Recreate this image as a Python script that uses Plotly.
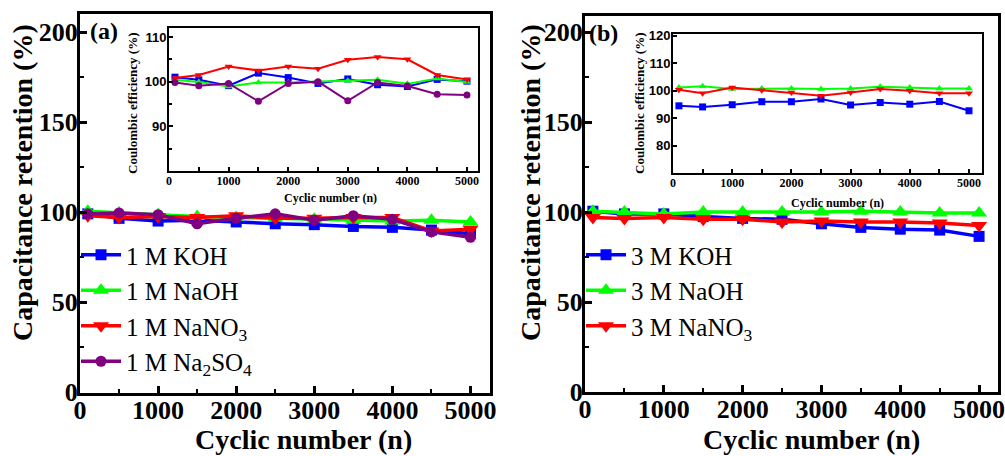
import plotly.graph_objects as go

# ---------------- data ----------------
cycles = [100, 500, 1000, 1500, 2000, 2500, 3000, 3500, 4000, 4500, 5000]

# panel (a) capacitance retention (%)
ret_koh_1 = [99, 96.5, 95, 95.5, 94.5, 93.5, 93, 92, 91.5, 90, 88]
ret_naoh_1 = [100.5, 99.5, 98.5, 97.5, 97, 96.5, 96, 95.5, 95, 95.5, 94.5]
ret_nano3_1 = [98, 97, 97.5, 97, 98, 96.5, 96.5, 97, 97, 89.5, 90.5]
ret_na2so4_1 = [99, 99.5, 98.5, 93.5, 96.5, 99, 95.5, 98, 96, 89, 86]

# panel (a) inset coulombic efficiency (%)
ce_koh_1 = [101, 100.4, 99.1, 101.9, 100.9, 99.6, 100.6, 99.3, 98.9, 100.5, 100.1]
ce_naoh_1 = [100.4, 99.9, 98.9, 99.8, 99.8, 100, 100.2, 100.4, 99.5, 100.7, 99.9]
ce_nano3_1 = [100.8, 101.5, 103.4, 102.5, 103.4, 102.9, 104.9, 105.5, 105, 101.5, 100.5]
ce_na2so4_1 = [99.8, 99.1, 99.6, 95.6, 99.6, 100, 95.7, 99.8, 99, 97.2, 97]

# panel (b) capacitance retention (%)
ret_koh_3 = [100.5, 99, 99, 97.5, 96.5, 96, 93.5, 91.5, 90.5, 90, 86.5]
ret_naoh_3 = [100.5, 100, 99, 100, 100, 100, 100, 100.5, 100, 99.5, 99.5]
ret_nano3_3 = [97, 96.5, 97, 96, 96, 94.5, 95, 94.5, 94.5, 94, 92.5]

# panel (b) inset coulombic efficiency (%)
ce_koh_3 = [94.5, 94.1, 94.9, 96, 96, 97, 94.8, 95.7, 95.1, 96.1, 92.7]
ce_naoh_3 = [101.2, 101.6, 100.6, 100.8, 100.8, 100.6, 100.8, 101.5, 101.2, 100.8, 100.8]
ce_nano3_3 = [100.4, 99.1, 101.2, 100.2, 99.4, 98.2, 99.4, 100.6, 100, 99.1, 99.1]

names_1 = ["1 M KOH", "1 M NaOH", "1 M NaNO<sub>3</sub>", "1 M Na<sub>2</sub>SO<sub>4</sub>"]
names_3 = ["3 M KOH", "3 M NaOH", "3 M NaNO<sub>3</sub>"]

colors = ["#0000FF", "#00FF00", "#FF0000", "#800080"]
symbols = ["square", "triangle-up", "triangle-down", "circle"]
msizes = [11, 14, 14, 11]

W, H = 1005, 456
def fx(p):
    return p / W
def fy(p):
    return 1 - p / H

SERIF = "Liberation Serif"
SANS = "Liberation Sans"

fig = go.Figure()

main_a = [ret_koh_1, ret_naoh_1, ret_nano3_1, ret_na2so4_1]
ins_a = [ce_koh_1, ce_naoh_1, ce_nano3_1, ce_na2so4_1]
main_b = [ret_koh_3, ret_naoh_3, ret_nano3_3]
ins_b = [ce_koh_3, ce_naoh_3, ce_nano3_3]

for i, (ys, nm) in enumerate(zip(main_a, names_1)):
    fig.add_trace(go.Scatter(x=cycles, y=ys, name=nm, mode="lines+markers",
                             line=dict(color=colors[i], width=3.5),
                             marker=dict(symbol=symbols[i], size=msizes[i], color=colors[i]),
                             xaxis="x", yaxis="y", legend="legend", legendgroup="a%d" % i))
for i, ys in enumerate(ins_a):
    fig.add_trace(go.Scatter(x=cycles, y=ys, mode="lines+markers", showlegend=False,
                             line=dict(color=colors[i], width=2),
                             marker=dict(symbol=symbols[i], size=7, color=colors[i]),
                             xaxis="x3", yaxis="y3"))
for i, (ys, nm) in enumerate(zip(main_b, names_3)):
    fig.add_trace(go.Scatter(x=cycles, y=ys, name=nm, mode="lines+markers",
                             line=dict(color=colors[i], width=3.5),
                             marker=dict(symbol=symbols[i], size=msizes[i], color=colors[i]),
                             xaxis="x2", yaxis="y2", legend="legend2", legendgroup="b%d" % i))
for i, ys in enumerate(ins_b):
    fig.add_trace(go.Scatter(x=cycles, y=ys, mode="lines+markers", showlegend=False,
                             line=dict(color=colors[i], width=2),
                             marker=dict(symbol=symbols[i], size=7, color=colors[i]),
                             xaxis="x4", yaxis="y4"))

tickf_main = dict(family=SERIF, size=26, color="black", weight="bold")
common_main = dict(showline=True, linecolor="black", linewidth=3, mirror=True,
                   ticks="inside", ticklen=7, tickwidth=2.5, tickcolor="black",
                   showgrid=False, zeroline=False, tickfont=tickf_main, automargin=False,
                   ticklabelstandoff=-6, ticklabeloverflow="allow")
xmain = dict(common_main, range=[0, 5250], tickvals=[0, 1000, 2000, 3000, 4000, 5000],
             ticklabelstandoff=-8,
             minor=dict(tickvals=[500, 1500, 2500, 3500, 4500], ticks="inside", ticklen=4,
                        tickwidth=2, tickcolor="black"))
ymain = dict(common_main, tickvals=[0, 50, 100, 150, 200],
             minor=dict(tickvals=[25, 75, 125, 175], ticks="inside", ticklen=4,
                        tickwidth=2, tickcolor="black"))

common_ins = dict(showline=True, linecolor="black", linewidth=2, mirror=True,
                  ticks="inside", ticklen=4, tickwidth=1.5, tickcolor="black",
                  showgrid=False, zeroline=False, automargin=False, ticklabelstandoff=-2,
                  ticklabeloverflow="allow")
xins = dict(common_ins, tickvals=[0, 1000, 2000, 3000, 4000, 5000],
            tickfont=dict(family=SERIF, size=12, color="black", weight="bold"),
            minor=dict(tickvals=[500, 1500, 2500, 3500, 4500], ticks="inside", ticklen=4,
                       tickwidth=1.5, tickcolor="black"))
yins_font = dict(family=SANS, size=13, color="black", weight="bold")

fig.update_layout(
    width=W, height=H, margin=dict(l=0, r=0, t=0, b=0, autoexpand=False),
    paper_bgcolor="white", plot_bgcolor="white",
    xaxis=dict(xmain, domain=[fx(80), fx(490)], anchor="y"),
    yaxis=dict(ymain, domain=[fy(393), fy(14)], range=[-0.5, 210], anchor="x"),
    xaxis2=dict(xmain, domain=[fx(585), fx(998)], anchor="y2", range=[0, 5240]),
    yaxis2=dict(ymain, domain=[fy(392), fy(16)], range=[0, 209], anchor="x2"),
    xaxis3=dict(xins, domain=[fx(169), fx(478)], range=[0, 5185], anchor="y3"),
    yaxis3=dict(common_ins, domain=[fy(171), fy(28)], range=[80, 112], anchor="x3",
                tickvals=[90, 100, 110], tickfont=yins_font,
                minor=dict(tickvals=[85, 95, 105], ticks="inside", ticklen=3, tickwidth=1.5,
                           tickcolor="black")),
    xaxis4=dict(xins, domain=[fx(673), fx(982)], range=[0, 5220], anchor="y4"),
    yaxis4=dict(common_ins, domain=[fy(173), fy(34)], range=[70, 120.7], anchor="x4",
                tickvals=[80, 90, 100, 110, 120], tickfont=yins_font),
    legend=dict(x=fx(76), y=fy(232), xanchor="left", yanchor="top",
                font=dict(family=SERIF, size=25, color="black"),
                bgcolor="rgba(0,0,0,0)", tracegroupgap=0, itemwidth=40),
    legend2=dict(x=fx(581), y=fy(232), xanchor="left", yanchor="top",
                 font=dict(family=SERIF, size=25, color="black"),
                 bgcolor="rgba(0,0,0,0)", tracegroupgap=0, itemwidth=40),
)

ann = []
title_font = dict(family=SERIF, size=28, color="black", weight="bold")
def add_ann(text, x, y, font, angle=0):
    ann.append(dict(text=text, x=fx(x), y=fy(y), xref="paper", yref="paper", textangle=angle,
                    showarrow=False, font=font, xanchor="center", yanchor="middle"))

for xc in (22, 530):
    add_ann("Capacitance retention (%)", xc, 183, title_font, -90)
for xc in (303, 811):
    add_ann("Cyclic number (n)", xc, 439, title_font)
panel_font = dict(family=SERIF, size=24, color="black", weight="bold")
add_ann("(a)", 104, 31, panel_font)
add_ann("(b)", 603, 33, panel_font)
small_font = dict(family=SERIF, size=12, color="black", weight="bold")
add_ann("Coulombic efficiency (%)", 133, 103, dict(small_font, size=13), -90)
add_ann("Coulombic efficiency (%)", 640, 103, dict(small_font, size=13), -90)
add_ann("Cyclic number (n)", 330, 198, small_font)
add_ann("Cyclic number (n)", 837, 203, small_font)
fig.update_layout(annotations=ann)

fig.write_html("out.html", config={"displayModeBar": False},
               post_script="document.body.style.margin='0';document.body.style.padding='0';")
